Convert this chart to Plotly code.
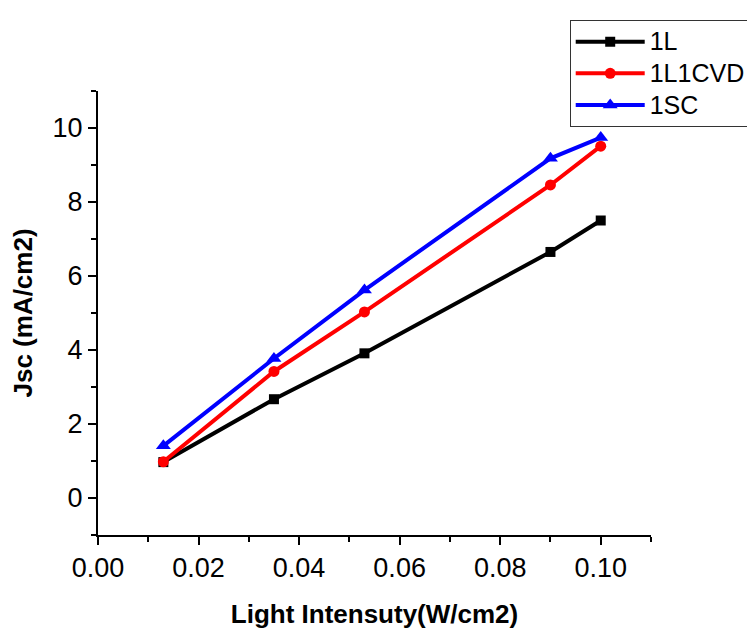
import plotly.graph_objects as go

x_vals = [0.013, 0.035, 0.053, 0.09, 0.10]
jsc_1L = [0.97, 2.67, 3.91, 6.65, 7.50]
jsc_1L1CVD = [0.98, 3.42, 5.03, 8.46, 9.51]
jsc_1SC = [1.41, 3.77, 5.62, 9.18, 9.74]

series = [
    ("1L", jsc_1L, "#000000", "square", 10),
    ("1L1CVD", jsc_1L1CVD, "#ff0000", "circle", 11),
    ("1SC", jsc_1SC, "#0000ff", "triangle-up", 13),
]

fig = go.Figure()
for name, ys, col, sym, sz in series:
    fig.add_trace(go.Scatter(
        x=x_vals, y=ys, name='<span style="font-size:25px">' + name + '</span>',
        mode="lines+markers",
        line=dict(color=col, width=4),
        marker=dict(symbol=sym, size=sz, color=col),
    ))

font_fam = "Liberation Sans, Arial"
axis_font = dict(family=font_fam, size=27, color="black")
title_font = dict(family=font_fam, size=26, color="black")
fig.update_layout(
    width=755, height=628,
    margin=dict(l=90, r=105, t=68, b=101),
    paper_bgcolor="white", plot_bgcolor="white",
    showlegend=True,
    legend=dict(
        x=0.853, y=1.16, xanchor="left", yanchor="top",
        bordercolor="#333333", borderwidth=1,
        font=dict(family=font_fam, size=22, color="black"),
        bgcolor="white", tracegroupgap=0, itemwidth=69,
    ),
    xaxis=dict(
        range=[0, 0.11], tickvals=[0, 0.02, 0.04, 0.06, 0.08, 0.10],
        ticktext=["0.00", "0.02", "0.04", "0.06", "0.08", "0.10"],
        showgrid=False, zeroline=False, showline=True, linecolor="black", linewidth=2,
        ticks="outside", ticklen=8, tickwidth=2, tickcolor="black",
        minor=dict(dtick=0.01, ticks="outside", ticklen=5, tickwidth=2, tickcolor="black", showgrid=False),
        tickfont=axis_font,
        title=dict(text="<b>Light Intensuty(W/cm2)</b>", font=title_font, standoff=22),
    ),
    yaxis=dict(
        range=[-1, 11], tickvals=[0, 2, 4, 6, 8, 10],
        showgrid=False, zeroline=False, showline=True, linecolor="black", linewidth=2,
        ticks="outside", ticklen=8, tickwidth=2, tickcolor="black",
        minor=dict(dtick=1, tick0=-1, ticks="outside", ticklen=5, tickwidth=2, tickcolor="black", showgrid=False),
        tickfont=axis_font,
        title=dict(text="<b>Jsc (mA/cm2)</b>", font=title_font, standoff=12),
    ),
)

fig.write_html("out.html")
